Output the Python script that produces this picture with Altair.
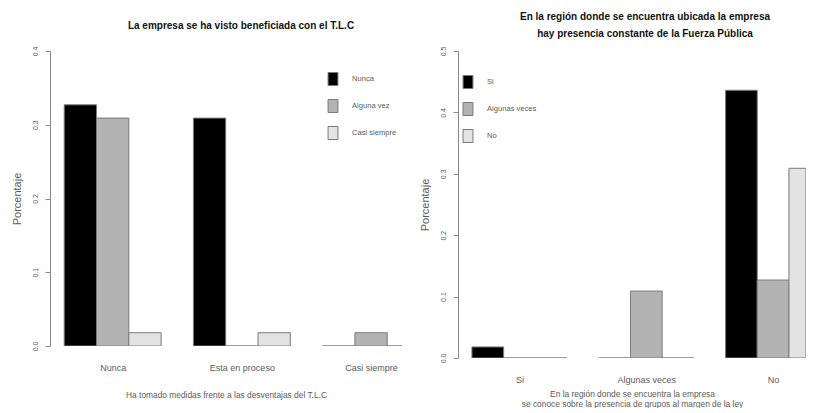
import altair as alt
import pandas as pd

# ---- data ----
left_groups = ["Nunca", "Esta en proceso", "Casi siempre"]
left_series = ["Nunca", "Alguna vez", "Casi siempre"]
left_nunca = [0.327, 0.309, 0.0]
left_alguna = [0.309, 0.0, 0.018]
left_casi = [0.018, 0.018, 0.0]

right_groups = ["Si", "Algunas veces", "No"]
right_series = ["Si", "Algunas veces", "No"]
right_si = [0.018, 0.0, 0.436]
right_algunas = [0.0, 0.109, 0.127]
right_no = [0.0, 0.0, 0.309]

left_ticks = [0.0, 0.1, 0.2, 0.3, 0.4]
right_ticks = [0.0, 0.1, 0.2, 0.3, 0.4, 0.5]

FILLS = ["#000000", "#b3b3b3", "#e3e3e3"]
FONT = "Liberation Sans, Arial, sans-serif"
GRAY_TXT = "#5a5a5a"
AX = "#8a8a8a"
RECT_SYMBOL = "M -0.76 -1 H 0.76 V 1 H -0.76 Z"


def make_df(groups, series, cols):
    # R barplot(beside=TRUE) layout: one unit per bar, one unit of space before each group
    rows = []
    for si, (s, vals) in enumerate(zip(series, cols)):
        for gi, (g, v) in enumerate(zip(groups, vals)):
            left_edge = 1 + gi * (len(series) + 1) + si
            rows.append({"grupo": g, "serie": s, "valor": v,
                         "x0": left_edge, "x1": left_edge + 1, "orden": si})
    return pd.DataFrame(rows)


dfL = make_df(left_groups, left_series, [left_nunca, left_alguna, left_casi])
dfR = make_df(right_groups, right_series, [right_si, right_algunas, right_no])


def panel(df, groups, series, ticks, ymax, width, height, unit_px,
          xtitle, title, title_dx, title_offset, legend_x, legend_y,
          xlabel_pad, xtitle_pad):
    n = len(series) + 1
    total = len(groups) * n
    lo = 1 - 0.04 * (total - 1)
    hi = lo + width / unit_px
    centers = [1 + gi * n + len(series) / 2 for gi in range(len(groups))]
    names = "[" + ",".join("'" + g + "'" for g in groups) + "]"
    label_expr = f"{names}[round((datum.value - {centers[0]}) / {n})]"
    return alt.Chart(df).mark_rect(stroke="#7a7a7a", strokeWidth=1, clip=True).encode(
        x=alt.X("x0:Q", scale=alt.Scale(domain=[lo, hi], nice=False, zero=False, clamp=True),
                axis=alt.Axis(title=xtitle, values=centers, labelExpr=label_expr,
                              domain=False, ticks=False, grid=False, labelAngle=0,
                              labelPadding=xlabel_pad, labelFont=FONT, labelFontSize=9,
                              labelColor=GRAY_TXT, labelFlush=False, labelOverlap=False,
                              titleFont=FONT, titleFontSize=8.4,
                              titleFontWeight="normal", titleColor=GRAY_TXT,
                              titlePadding=xtitle_pad, titleLineHeight=10.5)),
        x2="x1:Q",
        y=alt.Y("valor:Q", stack=None, scale=alt.Scale(domain=[0, ymax], nice=False),
                axis=alt.Axis(values=ticks, format=".1f", grid=False, labelAngle=270,
                              labelAlign="center", labelBaseline="bottom", labelPadding=7,
                              labelFont=FONT, labelFontSize=7, labelColor=GRAY_TXT,
                              tickSize=5, tickColor=AX, domainColor=AX,
                              title="Porcentaje", titleFont=FONT, titleFontSize=11,
                              titleFontWeight="normal", titleColor=GRAY_TXT, titlePadding=9)),
        y2=alt.datum(0),
        color=alt.Color("serie:N", sort=series,
                        scale=alt.Scale(domain=series, range=FILLS),
                        legend=alt.Legend(title=None, orient="none", legendX=legend_x,
                                          legendY=legend_y, direction="vertical",
                                          symbolType=RECT_SYMBOL, symbolSize=169,
                                          symbolStrokeColor="#7a7a7a", symbolStrokeWidth=1,
                                          symbolOpacity=1,
                                          labelFont=FONT, labelFontSize=7.6,
                                          labelColor=GRAY_TXT, labelOffset=12,
                                          rowPadding=9, padding=0)),
        order=alt.Order("orden:Q"),
    ).properties(
        width=width, height=height,
        title=alt.TitleParams(title, font=FONT, fontSize=10, fontWeight="bold",
                              color="#111111", anchor="middle", dx=title_dx,
                              offset=title_offset, lineHeight=17),
    )


left = panel(dfL, left_groups, left_series, left_ticks, 0.4,
             352, 295, 32.3,
             "Ha tomado medidas frente a las desventajas del T.L.C",
             "La empresa se ha visto beneficiada con el T.L.C", 15, 15,
             276, 21, 17, 18)

right = panel(dfR, right_groups, right_series, right_ticks, 0.5,
              348, 307, 31.7,
              ["En la región donde se encuentra la empresa",
               "se conoce sobre la presencia de grupos al margen de la ley"],
              ["En la región donde se encuentra ubicada la empresa",
               "hay presencia constante de la Fuerza Pública"], 13, 7,
              3, 24, 17, 5)

chart = alt.hconcat(left, right, spacing=16).resolve_scale(
    color="independent", x="independent", y="independent"
).resolve_legend(color="independent").properties(
    padding={"left": 3, "top": 4, "right": 0, "bottom": 0}
).configure_view(stroke=None)

chart.save("out.html", embed_options={"renderer": "svg", "actions": False})
